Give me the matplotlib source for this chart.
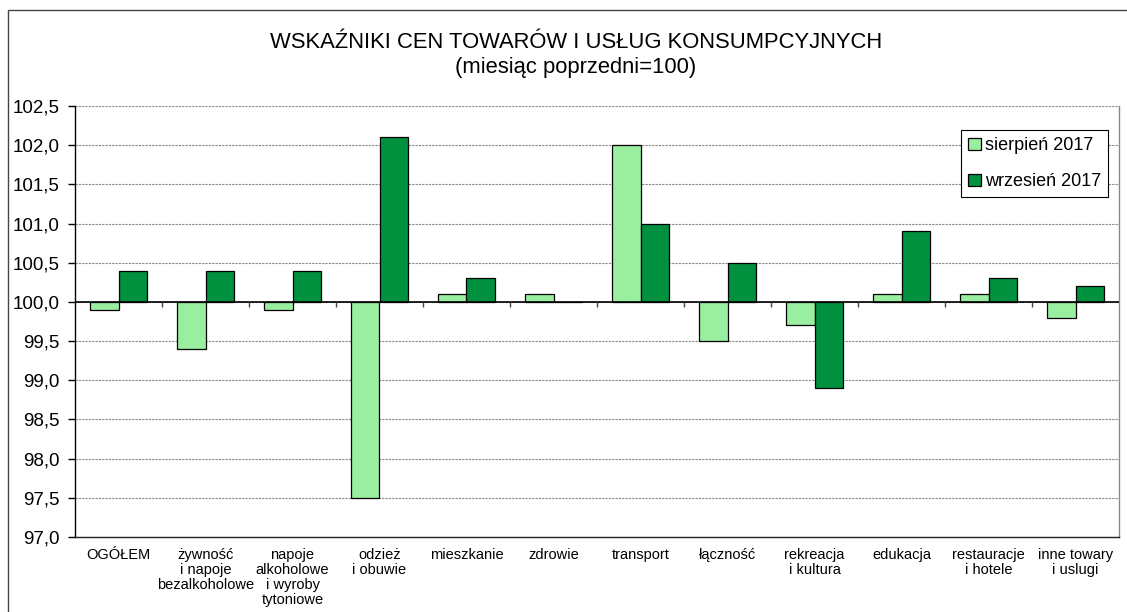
import matplotlib
matplotlib.use("Agg")
import matplotlib.pyplot as plt
import numpy as np
from matplotlib.patches import Rectangle

categories = ["OGÓŁEM", "żywność\ni napoje\nbezalkoholowe", "napoje\nalkoholowe\ni wyroby\ntytoniowe",
              "odzież\ni obuwie", "mieszkanie", "zdrowie", "transport", "łączność",
              "rekreacja\ni kultura", "edukacja", "restauracje\ni hotele", "inne towary\ni uslugi"]
sierpien = [99.9, 99.4, 99.9, 97.5, 100.1, 100.1, 102.0, 99.5, 99.7, 100.1, 100.1, 99.8]
wrzesien = [100.4, 100.4, 100.4, 102.1, 100.3, 100.0, 101.0, 100.5, 98.9, 100.9, 100.3, 100.2]
series_labels = ["sierpień 2017", "wrzesień 2017"]
yticks = [97.0, 97.5, 98.0, 98.5, 99.0, 99.5, 100.0, 100.5, 101.0, 101.5, 102.0, 102.5]
base = 100.0

plt.rcParams['font.family'] = ['Liberation Sans', 'DejaVu Sans']

fig = plt.figure(figsize=(11.27, 6.12), dpi=100)
ax = fig.add_axes([75/1127, 1-537/612, (1119-75)/1127, (537-106)/612])

light = "#99EEA0"
dark = "#00913F"
x = np.arange(len(categories))
w = 0.328
ax.bar(x - w/2, np.array(sierpien) - base, bottom=base, width=w, color=light,
       edgecolor="black", linewidth=0.9, label=series_labels[0], zorder=3)
ax.bar(x + w/2, np.array(wrzesien) - base, bottom=base, width=w, color=dark,
       edgecolor="black", linewidth=0.9, label=series_labels[1], zorder=3)

ax.set_xlim(-0.5, len(categories) - 0.5)
ax.set_ylim(97.0, 102.5)
ax.set_yticks(yticks)
ax.set_yticklabels([f"{v:.1f}".replace(".", ",") for v in yticks], fontsize=13.5)
ax.yaxis.grid(True, linestyle=(0, (2, 1)), color="#888888", linewidth=0.8, zorder=0)
ax.set_axisbelow(True)

ax.set_xticks(x)
ax.set_xticklabels(categories, fontsize=10.5, linespacing=1.1)
ax.tick_params(axis='x', length=0, pad=8)
ax.tick_params(axis='y', length=5, width=1, color="black", pad=6)

# baseline at 100 with small ticks at category boundaries
ax.axhline(base, color="black", linewidth=1.2, zorder=4)
bounds = np.arange(len(categories) + 1) - 0.5
ax.vlines(bounds[1:-1], base - 0.06, base, color="#444444", linewidth=1, zorder=4)

ax.spines['top'].set_visible(False)
ax.spines['right'].set_color("#888888")
ax.spines['left'].set_color("black")
ax.spines['bottom'].set_color("#222222")
for s in ax.spines.values():
    s.set_linewidth(1)

leg = ax.legend(loc="upper right", bbox_to_anchor=(1 - 11/1044, 1 - 24/431), fontsize=13,
                frameon=True, fancybox=False, edgecolor="black", framealpha=1,
                handlelength=0.7, handleheight=0.7, handletextpad=0.2,
                labelspacing=1.05, borderpad=0.4, borderaxespad=0)
leg.get_frame().set_linewidth(0.8)

fig.text(576/1127, 1-43/612, "WSKAŹNIKI CEN TOWARÓW I USŁUG KONSUMPCYJNYCH", ha="center", va="center",
         fontsize=15.8)
fig.text(576/1127, 1-68/612, "(miesiąc poprzedni=100)", ha="center", va="center", fontsize=15.8)

fig.patches.append(Rectangle((8/1127, -0.2), 1.2, 1.2 - 10/612, transform=fig.transFigure,
                             fill=False, edgecolor="#444444", linewidth=1))

fig.savefig("out.png", dpi=100)
